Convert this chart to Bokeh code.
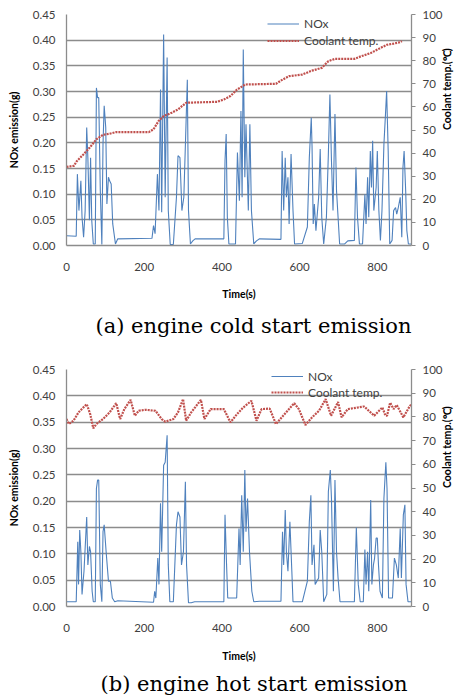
import math
from bokeh.plotting import figure
from bokeh.models import (Range1d, LinearAxis, Legend, LegendItem, Title,
                          FixedTicker, NumeralTickFormatter)
from bokeh.layouts import column
from bokeh.embed import file_html
from bokeh.resources import INLINE

# ---------------- data: (a) cold start ----------------
cold_nox_t = [0, 25, 28, 32, 37, 40, 44, 48, 52, 55, 59, 62, 65, 69, 74, 77, 80, 83, 87, 91, 94, 97, 101, 104,
              108, 111, 115, 119, 126, 132, 220, 224, 228, 234, 238, 242, 245, 250, 254, 259, 262, 267, 275,
              283, 287, 292, 297, 302, 311, 314, 319, 325, 331, 405, 408, 411, 414, 418, 435, 440, 445, 449,
              452, 455, 459, 462, 468, 472, 476, 482, 489, 497, 552, 555, 559, 563, 566, 570, 573, 578, 583,
              587, 607, 620, 625, 630, 632, 635, 638, 642, 649, 653, 657, 662, 669, 674, 678, 682, 686, 691,
              695, 699, 703, 716, 724, 741, 745, 749, 754, 762, 768, 771, 775, 778, 782, 785, 788, 791, 797,
              800, 804, 808, 812, 817, 821, 824, 828, 832, 838, 842, 847, 850, 854, 859, 863, 866, 869, 873,
              876, 880, 888]
cold_nox_v = [0.019, 0.018, 0.139, 0.068, 0.126, 0.055, 0.016, 0.068, 0.230, 0.171, 0.049, 0.171, 0.049, 0.003,
              0.003, 0.307, 0.288, 0.288, 0.107, 0.002, 0.198, 0.272, 0.230, 0.081, 0.133, 0.126, 0.120, 0.042,
              0.003, 0.013, 0.014, 0.039, 0.023, 0.139, 0.068, 0.304, 0.065, 0.411, 0.094, 0.366, 0.068, 0.002,
              0.002, 0.094, 0.175, 0.171, 0.068, 0.094, 0.323, 0.068, 0.003, 0.009, 0.013, 0.013, 0.165, 0.217,
              0.055, 0.003, 0.003, 0.181, 0.087, 0.262, 0.094, 0.382, 0.133, 0.236, 0.068, 0.236, 0.068, 0.003,
              0.009, 0.013, 0.012, 0.184, 0.068, 0.171, 0.094, 0.133, 0.042, 0.178, 0.068, 0.003, 0.004, 0.036,
              0.171, 0.249, 0.194, 0.042, 0.081, 0.029, 0.094, 0.188, 0.055, 0.003, 0.055, 0.178, 0.294, 0.165,
              0.068, 0.256, 0.107, 0.055, 0.003, 0.003, 0.009, 0.010, 0.152, 0.055, 0.003, 0.003, 0.100, 0.042,
              0.133, 0.055, 0.184, 0.113, 0.204, 0.068, 0.113, 0.184, 0.068, 0.010, 0.068, 0.197, 0.255, 0.301,
              0.184, 0.003, 0.010, 0.068, 0.074, 0.061, 0.074, 0.094, 0.016, 0.152, 0.184, 0.107, 0.029, 0.003,
              0.003]
cold_temp_t = [0, 19, 27, 44, 60, 77, 94, 111, 128, 212, 224, 237, 250, 271, 287, 308, 388, 405, 422, 439,
               460, 539, 556, 573, 607, 632, 657, 674, 691, 741, 758, 783, 808, 825, 842, 859, 863]
cold_temp_v = [34, 34.5, 36.6, 39.5, 42.4, 46, 47.9, 48.4, 49.1, 49.1, 50.3, 53.9, 56, 57.5, 58.9, 61.8, 62.2,
               63.2, 64.7, 67.5, 69.7, 70, 71.8, 73.3, 74, 75.7, 76.9, 79.8, 80.8, 80.8, 81.9, 83.3, 85.5,
               86.9, 87.4, 88, 88.5]

# ---------------- data: (b) hot start ----------------
hot_nox_t = [0, 25, 29, 31, 34, 37, 40, 45, 52, 55, 59, 62, 66, 69, 74, 77, 80, 83, 87, 91, 94, 97, 102, 108,
             113, 118, 124, 132, 224, 227, 230, 235, 238, 242, 245, 250, 254, 259, 262, 266, 275, 283, 287,
             292, 296, 301, 306, 309, 314, 321, 330, 405, 408, 412, 415, 438, 444, 447, 451, 455, 459, 462,
             466, 471, 477, 482, 497, 552, 556, 559, 563, 566, 570, 575, 580, 583, 607, 620, 625, 629, 632,
             637, 640, 649, 653, 657, 662, 670, 674, 679, 682, 687, 691, 695, 699, 704, 741, 746, 751, 756,
             764, 768, 771, 775, 778, 783, 786, 790, 793, 797, 800, 803, 807, 813, 817, 822, 825, 829, 839,
             844, 849, 854, 859, 862, 867, 871, 874, 879, 888]
hot_nox_v = [0.009, 0.009, 0.123, 0.042, 0.145, 0.104, 0.023, 0.067, 0.170, 0.079, 0.114, 0.104, 0.029, 0.009,
             0.009, 0.224, 0.240, 0.240, 0.042, 0.009, 0.142, 0.155, 0.104, 0.048, 0.048, 0.016, 0.009, 0.011,
             0.008, 0.029, 0.016, 0.092, 0.042, 0.196, 0.104, 0.268, 0.274, 0.325, 0.079, 0.009, 0.009, 0.155,
             0.180, 0.170, 0.079, 0.104, 0.237, 0.079, 0.007, 0.007, 0.009, 0.009, 0.174, 0.079, 0.016, 0.016,
             0.148, 0.079, 0.211, 0.104, 0.259, 0.142, 0.205, 0.104, 0.029, 0.009, 0.010, 0.010, 0.142, 0.079,
             0.183, 0.104, 0.067, 0.161, 0.067, 0.009, 0.009, 0.048, 0.161, 0.211, 0.079, 0.117, 0.042, 0.054,
             0.145, 0.104, 0.009, 0.023, 0.218, 0.259, 0.205, 0.029, 0.240, 0.104, 0.054, 0.009, 0.009, 0.150,
             0.042, 0.009, 0.009, 0.108, 0.042, 0.104, 0.029, 0.202, 0.042, 0.079, 0.092, 0.130, 0.130, 0.079,
             0.029, 0.016, 0.205, 0.274, 0.224, 0.016, 0.016, 0.092, 0.079, 0.054, 0.148, 0.054, 0.174, 0.193,
             0.042, 0.009, 0.009]
hot_temp_t = [0, 6, 18, 31, 52, 61, 69, 77, 94, 111, 128, 138, 149, 165, 176, 186, 203, 229, 245, 254, 275,
              287, 300, 308, 321, 346, 355, 371, 405, 422, 439, 455, 476, 489, 502, 523, 539, 565, 586, 598,
              615, 632, 650, 667, 681, 699, 708, 724, 751, 766, 792, 813, 821, 825, 833, 842, 850, 867, 884, 888]
hot_temp_v = [79.1, 77, 78.4, 81.9, 85.4, 81.2, 75.2, 77, 79.1, 81.9, 85.8, 79.1, 83.3, 87.2, 80.5, 82.6, 83,
              82.6, 79.1, 78, 79.1, 81.9, 87.5, 78.4, 81.9, 87.2, 79.1, 83.3, 83.3, 77.7, 81.2, 84, 86.8, 78.4,
              83.3, 83.5, 77, 81.9, 85.8, 83.3, 76.6, 79.8, 82.6, 87.5, 80.5, 86.3, 79.8, 83.3, 84, 84.4, 80.5,
              84, 80.5, 80.5, 86, 83.3, 85, 79.8, 84.7, 85]

x_ticks = [0, 200, 400, 600, 800]
nox_ticks = [0.0, 0.05, 0.10, 0.15, 0.20, 0.25, 0.30, 0.35, 0.40, 0.45]
temp_ticks = [0, 10, 20, 30, 40, 50, 60, 70, 80, 90, 100]
series_labels = ["NOx", "Coolant temp."]
captions = ["(a) engine cold start emission", "(b) engine hot start emission"]

BLUE = "#4f81bd"
RED = "#c0504d"
GRID = "#8c8c8c"
TXT = "#404040"
FONT = "Lato"


def make_chart(nt, nv, tt, tv, caption, top, frame_h, bottom, leg_xy, row_h,
               cap_standoff, cap_offset, time_standoff):
    p = figure(width=461, height=top + frame_h + bottom, output_backend="svg",
               toolbar_location=None, x_range=Range1d(0, 888), y_range=Range1d(0, 0.45),
               min_border_left=66, min_border_right=43, min_border_top=top,
               min_border_bottom=bottom)
    p.outline_line_color = None
    p.background_fill_color = "white"
    p.extra_y_ranges = {"temp": Range1d(0, 100)}

    p.xgrid.visible = False
    p.ygrid.grid_line_color = GRID
    p.ygrid.grid_line_width = 1.3

    xa = p.xaxis[0]
    xa.ticker = FixedTicker(ticks=x_ticks)
    xa.axis_label = "Time(s)"
    ya = p.yaxis[0]
    ya.ticker = FixedTicker(ticks=nox_ticks)
    ya.formatter = NumeralTickFormatter(format="0.00")
    ya.axis_label = "NOx emission(g)"
    ra = LinearAxis(y_range_name="temp", ticker=FixedTicker(ticks=temp_ticks),
                    axis_label="Coolant temp.(\u2103)")
    try:
        ra.axis_label_orientation = math.pi / 2
    except Exception:
        pass
    p.add_layout(ra, "right")

    for ax in (xa, ya, ra):
        ax.axis_line_color = GRID
        ax.axis_line_width = 1.3
        ax.major_tick_line_color = GRID
        ax.minor_tick_line_color = None
        ax.major_tick_in = 0
        ax.major_tick_out = 0
        ax.major_label_text_font = FONT
        ax.major_label_text_font_size = "11.5px"
        ax.major_label_text_color = TXT
        ax.axis_label_text_font = FONT
        ax.axis_label_text_font_style = "bold"
        ax.axis_label_text_font_size = "10.5px"
        ax.axis_label_text_color = "black"
    xa.major_label_standoff = 17
    xa.axis_label_standoff = time_standoff
    ya.major_label_standoff = 11
    ya.axis_label_standoff = 10
    ra.major_tick_out = 4
    ra.major_label_standoff = 7
    ra.axis_label_standoff = 1

    r1 = p.line(nt, nv, line_color=BLUE, line_width=1.1)
    r2 = p.line(tt, tv, line_color=RED, line_width=2.2, line_dash="2 1", y_range_name="temp")

    leg = Legend(items=[LegendItem(label=series_labels[0], renderers=[r1]),
                        LegendItem(label=series_labels[1], renderers=[r2])],
                 location=leg_xy, glyph_width=32, glyph_height=row_h, label_height=row_h,
                 spacing=0, padding=0, margin=0, label_standoff=5,
                 background_fill_alpha=0, border_line_alpha=0,
                 label_text_font=FONT, label_text_font_size="12px", label_text_color=TXT)
    p.add_layout(leg)

    p.add_layout(Title(text=caption, align="left", text_font="DejaVu Serif",
                       text_font_size="21px", text_font_style="normal", text_color="black",
                       offset=cap_offset, standoff=cap_standoff), "below")
    return p


pa = make_chart(cold_nox_t, cold_nox_v, cold_temp_t, cold_temp_v, captions[0],
                14, 231, 105, (201, 196), 17, 19, 29, 14)
pb = make_chart(hot_nox_t, hot_nox_v, hot_temp_t, hot_temp_v, captions[1],
                19, 238, 93, (205, 206), 16, 10, 34, 15)

layout = column(pa, pb, spacing=0)
open("out.html", "w").write(file_html(layout, INLINE))
